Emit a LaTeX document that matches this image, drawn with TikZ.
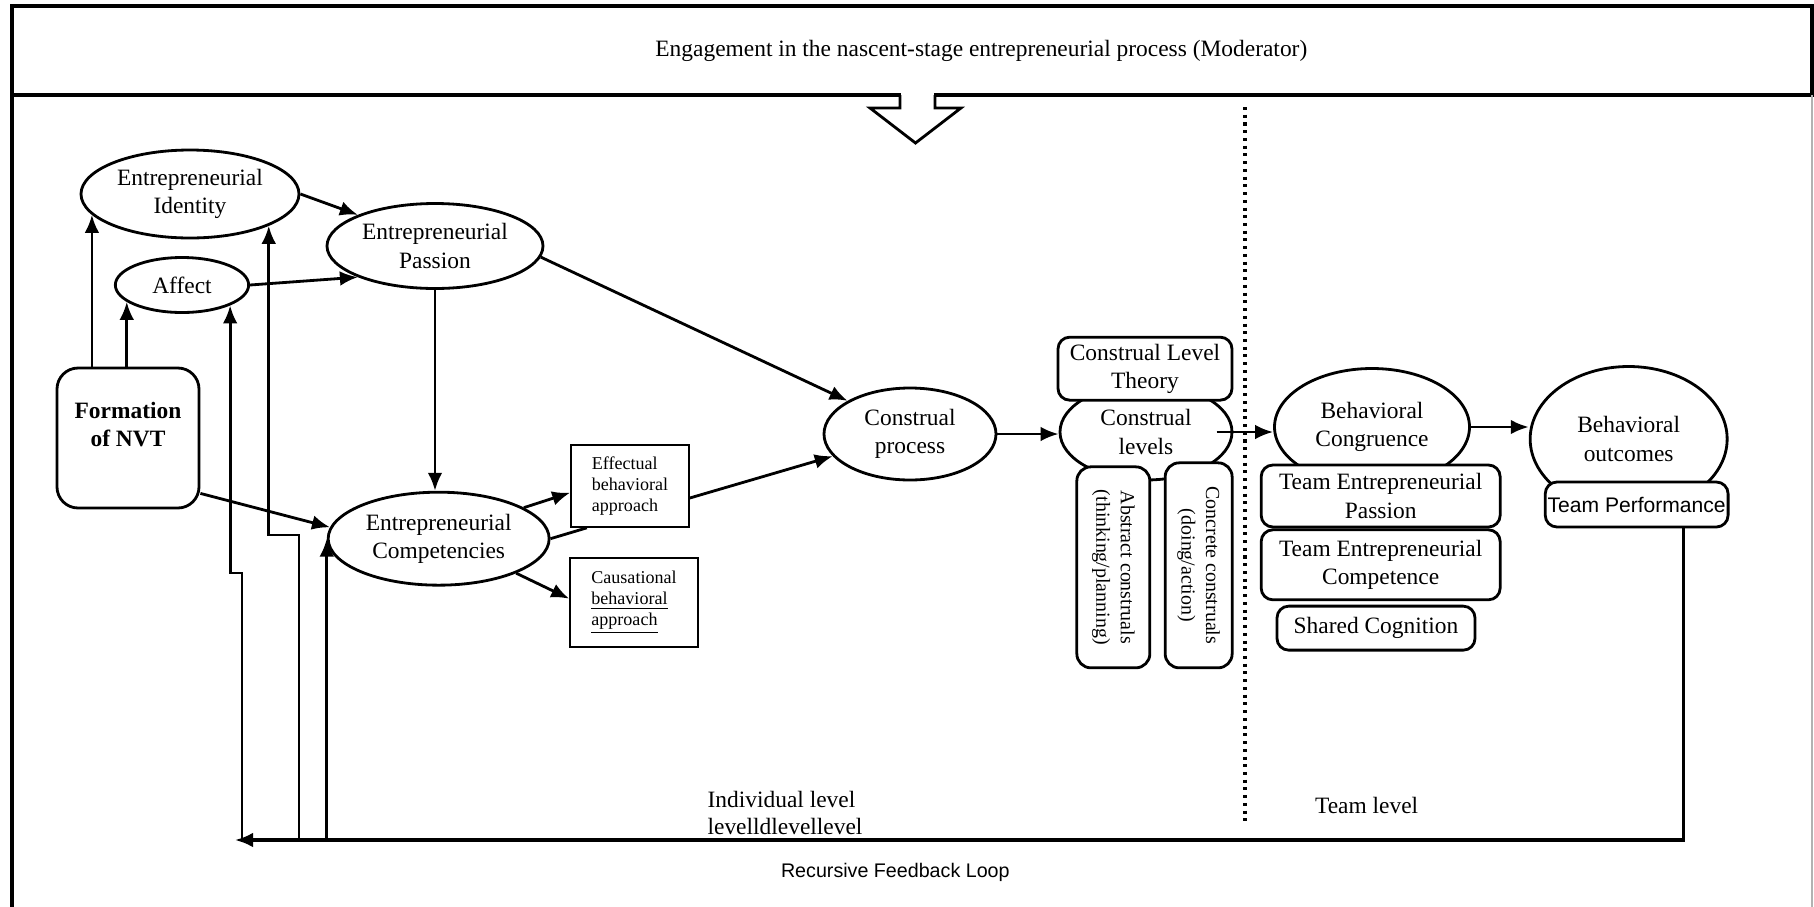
\documentclass[tikz,border=0pt]{standalone}
\usepackage{fontspec}
\setmainfont{Liberation Serif}
\setsansfont{Liberation Sans}
\usepackage{tikz}
\usetikzlibrary{shapes,arrows.meta,positioning}

\begin{document}
\begin{tikzpicture}[>={Latex[length=2.7mm,width=2.2mm]}, font=\fontsize{10}{12}\selectfont]
  \tikzstyle{bubble} = [ellipse, draw, line width=1.2pt, align=center, inner sep=0pt]
  \tikzstyle{rbox} = [rectangle, draw, rounded corners=5pt, line width=1.2pt, align=center, fill=white, inner sep=1pt]
  \tikzstyle{sbox} = [rectangle, draw, line width=0.7pt, align=left, font=\fontsize{7.7}{9}\selectfont]
  \tikzstyle{link} = [->, line width=1.2pt]

  \useasboundingbox (0,0) rectangle (27.21,-13.59);

  % moderator on top
  \node[draw, line width=1.3pt, outer sep=0pt, inner sep=0pt, minimum width=27cm, minimum height=1.335cm] (mod) at (13.68,-0.7575) {\hspace*{2.08cm}Engagement in the nascent-stage entrepreneurial process (Moderator)};
  \draw[line width=1.3pt] (mod.south west) -- ++(0,-12.2);
  \draw[line width=0.6pt, gray!60] (mod.south east) -- ++(0,-12.2);
  \fill[white] ([xshift=-0.17cm,yshift=-0.04cm]mod.south) rectangle ([xshift=0.335cm,yshift=0.04cm]mod.south);
  \draw[line width=1.2pt, fill=white] ([xshift=-0.18cm]mod.south) -- ++(0,-0.195) -- ++(-0.45,0) -- ++(0.6825,-0.525) -- ++(0.6825,0.525) -- ++(-0.39,0) -- ++(0,0.195);

  % individual / team divider
  \draw[line width=1.3pt, dash pattern=on 1.3pt off 2pt] (18.675,-1.605) -- (18.675,-12.375);

  % individual level
  \node[bubble, minimum width=3.27cm, minimum height=1.32cm] (id) at (2.85,-2.91) {Entrepreneurial\\Identity};
  \node[bubble, minimum width=2cm, minimum height=0.825cm] (aff) at (2.73,-4.275) {Affect};
  \node[bubble, minimum width=3.24cm, minimum height=1.275cm] (pas) at (6.525,-3.69) {Entrepreneurial\\Passion};
  \node[rbox, rounded corners=9pt, minimum width=2.13cm, minimum height=2.1cm, font=\fontsize{10}{12}\selectfont\bfseries] (nvt) at (1.92,-6.57) {Formation\\of NVT\\~};
  \node[bubble, minimum width=3.315cm, minimum height=1.395cm] (comp) at (6.58,-8.08) {Entrepreneurial\\Competencies};
  \node[sbox, minimum width=1.77cm, minimum height=1.23cm] (eff) at (9.45,-7.29) {Effectual\\behavioral\\approach};
  \node[sbox, minimum width=1.92cm, minimum height=1.335cm] (cau) at (9.51,-9.04) {Causational\\\underline{behavioral}\\\underline{approach}};
  \node[bubble, minimum width=2.58cm, minimum height=1.38cm] (cp) at (13.65,-6.51) {Construal\\process};

  % construal levels
  \node[bubble, minimum width=2.58cm, minimum height=1.44cm] (cl) at (17.19,-6.48) {Construal\\levels};
  \node[rbox, minimum width=2.61cm, minimum height=0.945cm] (clt) at (17.175,-5.53) {Construal Level\\Theory};
  \node[rbox, rounded corners=6pt, rotate=-90, minimum width=3.015cm, minimum height=1.095cm, font=\fontsize{8.5}{10.5}\selectfont] (abs) at (16.7,-8.51) {Abstract construals\\(thinking/planning)};
  \node[rbox, rounded corners=6pt, rotate=-90, minimum width=3.075cm, minimum height=1.005cm, font=\fontsize{8.5}{10.5}\selectfont] (con) at (17.98,-8.48) {Concrete construals\\(doing/action)};

  % team level
  \node[bubble, minimum width=2.925cm, minimum height=1.755cm] (bc) at (20.58,-6.405) {Behavioral\\Congruence};
  \node[rbox, minimum width=3.585cm, minimum height=0.93cm] (tep) at (20.71,-7.44) {Team Entrepreneurial\\Passion};
  \node[rbox, minimum width=3.585cm, minimum height=1.05cm, below=0pt of tep] (tec) {Team Entrepreneurial\\Competence};
  \node[rbox, minimum width=2.97cm, minimum height=0.66cm, below=1.5pt of tec, xshift=-0.07cm] (sc) {Shared Cognition};
  \node[bubble, minimum width=2.955cm, minimum height=2.175cm] (bo) at (24.43,-6.585) {Behavioral\\outcomes};
  \node[rbox, minimum width=2.685cm, minimum height=0.675cm, font=\sffamily\fontsize{9}{10}\selectfont] (tp) at (24.55,-7.5675) {Team Performance};

  % arrows
  \draw[link] (id.192 |- nvt.north) -- (id.192);
  \draw[link] (aff.197 |- nvt.north) -- (aff.197);
  \draw[link] (id.east) -- (pas.158);
  \draw[link] (aff.east) -- (pas.202);
  \draw[link] (pas.south) -- (pas.south |- comp.north);
  \draw[link] ([yshift=0.24cm]nvt.south east) -- (comp.174);
  \draw[link] (pas.-6) -- (cp.152);
  \draw[link] (comp.20) -- ([yshift=-0.1cm]eff.west);
  \draw[line width=1.2pt] (comp.east) -- ([xshift=0.25cm]eff.south west);
  \draw[link] (comp.-24) -- ([yshift=0.06cm]cau.west);
  \draw[link] ([yshift=-0.18cm]eff.east) -- (cp.196);
  \draw[link] (cp.east) -- (cp.east -| cl.west);
  \draw[link] ([xshift=-0.25cm]cl.east) -- (cl.east -| bc.west);
  \draw[link] (bc.east) -- (bc.east -| bo.west);

  % feedback loop
  \coordinate (loopend) at (3.525,-12.6);
  \coordinate (j1) at (3.63,-8.595);
  \coordinate (j2) at (4.485,-8.025);
  \draw[link, line width=1.3pt] ([xshift=0.7cm]tp.south) |- (loopend);
  \draw[link] (j1 |- loopend) -- (j1) -- (j1 -| aff.337) -- (aff.337);
  \draw[link] (j2 |- loopend) -- (j2) -- (j2 -| id.338) -- (id.338);
  \draw[link] (comp.west |- loopend) -- (comp.west);

  \node[anchor=west, align=left, font=\fontsize{10}{11.5}\selectfont] (indlbl) at (10.49,-12.2) {Individual level\\levelldlevellevel};
  \node (teamlbl) at (20.5,-12.075) {Team level};
  \node[font=\sffamily\fontsize{8.4}{10}\selectfont] (looplbl) at (13.43,-13.08) {Recursive Feedback Loop};
\end{tikzpicture}
\end{document}
